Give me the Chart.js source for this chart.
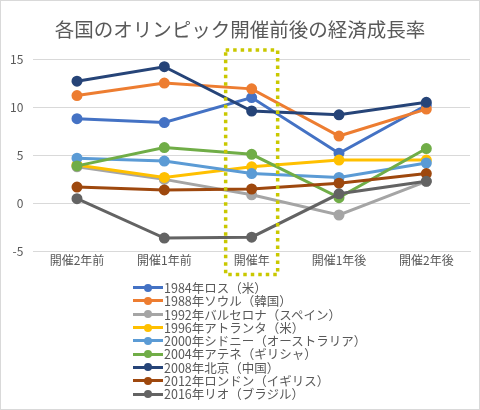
<!DOCTYPE html>
<html>
<head>
<meta charset="utf-8">
<script src="https://cdn.jsdelivr.net/npm/chart.js@4"></script>
<style>
  body { margin: 0; background: #fff; }
  #wrap { position: relative; width: 480px; height: 410px; box-sizing: border-box; border: 1px solid #d9d9d9; overflow: hidden; }
  #myChart { position: absolute; left: -1px; top: -1px; }
  #title { position: absolute; left: -1px; top: 13px; width: 480px; text-align: center; line-height: 24px; font: 19.5px "Noto Sans CJK JP", sans-serif; color: #595959; }
  #legend { position: absolute; left: 132px; top: 280px; font: 12.5px "Noto Sans CJK JP", sans-serif; color: #595959; }
  .item { height: 13.3px; line-height: 13.3px; display: flex; align-items: center; white-space: nowrap; }
  .mark { position: relative; width: 30px; height: 3px; margin-right: 1px; }
  .mark i { position: absolute; left: 11px; top: -2.5px; width: 8px; height: 8px; border-radius: 50%; }
</style>
</head>
<body>
<div id="wrap">
  <canvas id="myChart" width="480" height="410"></canvas>
  <div id="title">各国のオリンピック開催前後の経済成長率</div>
  <div id="legend"></div>
</div>
<script>
const labels = ['開催2年前', '開催1年前', '開催年', '開催1年後', '開催2年後'];
const names = [
  '1984年ロス（米）',
  '1988年ソウル（韓国）',
  '1992年バルセロナ（スペイン）',
  '1996年アトランタ（米）',
  '2000年シドニー（オーストラリア）',
  '2004年アテネ（ギリシャ）',
  '2008年北京（中国）',
  '2012年ロンドン（イギリス）',
  '2016年リオ（ブラジル）'
];
const la1984 = [8.8, 8.4, 11.0, 5.2, 10.2];
const seoul1988 = [11.2, 12.5, 11.9, 7.0, 9.8];
const barcelona1992 = [3.8, 2.5, 0.9, -1.2, 2.3];
const atlanta1996 = [4.0, 2.7, 3.8, 4.5, 4.5];
const sydney2000 = [4.7, 4.4, 3.1, 2.7, 4.2];
const athens2004 = [3.9, 5.8, 5.1, 0.6, 5.7];
const beijing2008 = [12.7, 14.2, 9.6, 9.2, 10.5];
const london2012 = [1.7, 1.4, 1.5, 2.1, 3.1];
const rio2016 = [0.5, -3.6, -3.5, 1.0, 2.3];
const yTicks = [-5, 0, 5, 10, 15];

const colors = ['#4472C4', '#ED7D31', '#A5A5A5', '#FFC000', '#5B9BD5', '#70AD47', '#264478', '#9E480E', '#636363'];
const series = [la1984, seoul1988, barcelona1992, atlanta1996, sydney2000, athens2004, beijing2008, london2012, rio2016];

const font = '"Noto Sans CJK JP", sans-serif';

// dotted box around 開催年
const hostBox = {
  id: 'hostBox',
  afterDraw(chart) {
    const c = chart.ctx, x = chart.scales.x, y = chart.scales.y;
    const cx = x.getPixelForValue(2);
    const top = y.getPixelForValue(15) - 9;
    const bottom = chart.chartArea.bottom + 23;
    c.save();
    c.strokeStyle = '#C9C800';
    c.lineWidth = 3.5;
    c.setLineDash([3.5, 4]);
    c.strokeRect(cx - 26, top, 52, bottom - top);
    c.restore();
  }
};

const ctx = document.getElementById('myChart');
new Chart(ctx, {
  type: 'line',
  data: {
    labels: labels,
    datasets: series.map((d, i) => ({
      label: names[i],
      data: d,
      borderColor: colors[i],
      backgroundColor: colors[i],
      borderWidth: 3,
      pointRadius: 4,
      pointHoverRadius: 4,
      order: series.length - i
    }))
  },
  options: {
    responsive: false,
    animation: false,
    layout: { padding: { left: 0, right: 10, top: 59, bottom: 140 } },
    plugins: {
      legend: { display: false },
      tooltip: { enabled: false }
    },
    scales: {
      x: {
        offset: true,
        grid: { display: false, drawTicks: false },
        border: { color: '#d9d9d9' },
        ticks: { color: '#595959', font: { family: font, size: 12 }, padding: 2, maxRotation: 0 }
      },
      y: {
        min: -5,
        max: 15,
        afterBuildTicks: axis => { axis.ticks = yTicks.map(v => ({ value: v })); },
        grid: { color: '#d9d9d9', drawTicks: false },
        border: { display: false },
        ticks: { color: '#595959', font: { family: font, size: 12 }, padding: 10 }
      }
    }
  },
  plugins: [hostBox]
});

const legend = document.getElementById('legend');
names.forEach((n, i) => {
  const row = document.createElement('div');
  row.className = 'item';
  row.innerHTML = '<span class="mark" style="background:' + colors[i] + '"><i style="background:' + colors[i] + '"></i></span><span>' + n + '</span>';
  legend.appendChild(row);
});
</script>
</body>
</html>
